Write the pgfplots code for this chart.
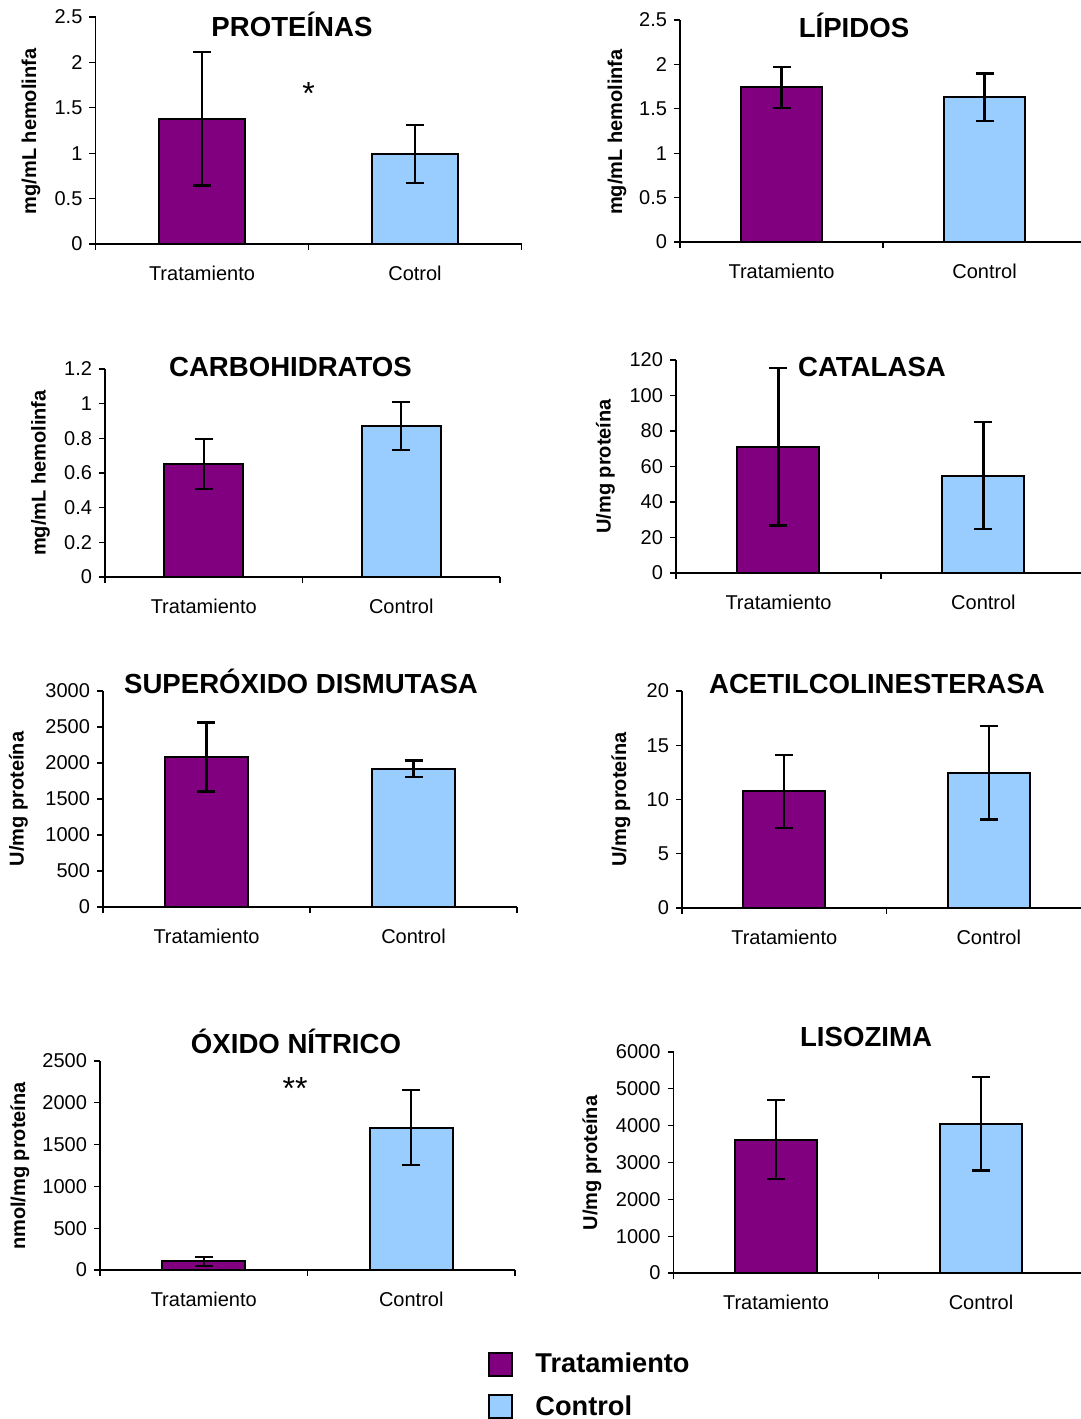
\documentclass[border=0pt]{standalone}
\usepackage{fontspec}
\setmainfont{Liberation Sans}
\usepackage{pgfplots}
\pgfplotsset{compat=1.18}
\definecolor{tratcol}{HTML}{800080}
\definecolor{ctrlcol}{HTML}{99CCFF}
\pgfplotsset{
 panel/.style={
   scale only axis, anchor=south west, clip=false,
   axis lines*=left,
   axis line style={black, line width=0.6pt},
   every tick/.style={black, line width=0.6pt},
   tick align=outside, major tick length=3pt,
   xmin=0, ymin=0,
   xtick={0,1,2}, xticklabels={,,},
   extra x ticks={0.5,1.5}, extra x tick labels={Tratamiento,Control},
   extra x tick style={major tick length=0pt, xticklabel style={yshift=-7.5pt}},
   tick label style={font=\fontsize{10}{12}\selectfont},
   /pgf/number format/assume math mode=true,
   scaled y ticks=false,
   yticklabel style={/pgf/number format/fixed, /pgf/number format/1000 sep={}},
   ybar, bar shift=0pt, bar width=0.4,
 },
 ebar/.style={error bars/.cd, y dir=both, y explicit,
   error bar style={line width=1.1pt, black},
   error mark options={rotate=90, line width=1.1pt, black, mark size=4.5pt}},
 barT/.style={fill=tratcol, draw=black, line width=1pt, forget plot, ebar},
 barC/.style={fill=ctrlcol, draw=black, line width=1pt, forget plot, ebar},
 sqleg/.style={legend image code/.code={\draw[##1] (0pt,-5.75pt) rectangle (11.5pt,5.75pt);}},
}
\newcommand{\ttl}[2]{\node[anchor=base, font=\bfseries\fontsize{13.8}{16}\selectfont] at (#1) {#2};}
\newcommand{\ylab}[2]{\node[rotate=90, font=\bfseries\fontsize{10}{12}\selectfont] at (#1) {#2};}
\begin{document}
\begin{tikzpicture}
\useasboundingbox (0pt,0pt) rectangle (540.5pt,-709.5pt);

% PROTEINAS
\begin{axis}[panel, at={(47.75pt,-122pt)}, width=213pt, height=113.5pt, xmax=2, ymax=2.5, ytick={0,0.5,1,1.5,2,2.5},
  extra x tick labels={Tratamiento,Cotrol}]
\addplot[barT] coordinates {(0.5,1.38) +- (0,0.736)};
\addplot[barC] coordinates {(1.5,0.988) +- (0,0.319)};
\node[font=\fontsize{16}{18}\selectfont] at (axis cs:1,1.66) {*};
\end{axis}
\ttl{146pt,-18pt}{PROTEÍNAS}
\ylab{15.5pt,-65.75pt}{mg/mL hemolinfa}

% LIPIDOS
\begin{axis}[panel, at={(340pt,-121pt)}, width=200.5pt, height=111pt, xmax=1.975, ymax=2.5, ytick={0,0.5,1,1.5,2,2.5}]
\addplot[barT] coordinates {(0.5,1.74) +- (0,0.227)};
\addplot[barC] coordinates {(1.5,1.63) +- (0,0.268)};
\end{axis}
\ttl{427pt,-18.5pt}{LÍPIDOS}
\ylab{308.5pt,-66pt}{mg/mL hemolinfa}

% CARBOHIDRATOS
\begin{axis}[panel, at={(52.5pt,-288.5pt)}, width=197.5pt, height=104pt, xmax=2, ymax=1.2, ytick={0,0.2,0.4,0.6,0.8,1,1.2}]
\addplot[barT] coordinates {(0.5,0.651) +- (0,0.143)};
\addplot[barC] coordinates {(1.5,0.871) +- (0,0.139)};
\end{axis}
\ttl{145.25pt,-188pt}{CARBOHIDRATOS}
\ylab{20.25pt,-236.5pt}{mg/mL hemolinfa}

% CATALASA
\begin{axis}[panel, at={(338pt,-286.5pt)}, width=202.5pt, height=106.5pt, xmax=1.976, ymax=120, ytick={0,20,40,60,80,100,120}]
\addplot[barT] coordinates {(0.5,71.1) +- (0,44.3)};
\addplot[barC] coordinates {(1.5,54.9) +- (0,30.1)};
\end{axis}
\ttl{436pt,-188pt}{CATALASA}
\ylab{302.75pt,-233.25pt}{U/mg proteína}

% SOD
\begin{axis}[panel, at={(51.5pt,-453.5pt)}, width=207pt, height=108pt, xmax=2, ymax=3000, ytick={0,500,1000,1500,2000,2500,3000}]
\addplot[barT] coordinates {(0.5,2084) +- (0,479)};
\addplot[barC] coordinates {(1.5,1921) +- (0,114)};
\end{axis}
\ttl{150.5pt,-346.5pt}{SUPERÓXIDO DISMUTASA}
\ylab{9.25pt,-399.5pt}{U/mg proteína}

% ACETILCOLINESTERASA
\begin{axis}[panel, at={(341pt,-454pt)}, width=199.5pt, height=108.5pt, xmax=1.951, ymax=20, ytick={0,5,10,15,20}]
\addplot[barT] coordinates {(0.5,10.74) +- (0,3.35)};
\addplot[barC] coordinates {(1.5,12.45) +- (0,4.29)};
\end{axis}
\ttl{438.5pt,-346.5pt}{ACETILCOLINESTERASA}
\ylab{310.5pt,-399.75pt}{U/mg proteína}

% OXIDO NITRICO
\begin{axis}[panel, at={(50pt,-635pt)}, width=207.5pt, height=104.5pt, xmax=2, ymax=2500, ytick={0,500,1000,1500,2000,2500},
  legend style={at={(axis description cs:0.935,-0.375)}, anchor=north west, draw=none, fill=none,
    font=\bfseries\fontsize{13.6}{16}\selectfont, inner sep=0pt, row sep=6pt,
    /tikz/every odd column/.append style={column sep=9pt}},
  legend cell align=left]
\addplot[barT] coordinates {(0.5,104) +- (0,56)};
\addplot[barC] coordinates {(1.5,1702) +- (0,447)};
\node[font=\fontsize{16}{18}\selectfont] at (axis cs:0.94,2170) {**};
\addlegendimage{sqleg, fill=tratcol, draw=black, line width=1pt}
\addlegendentry{Tratamiento}
\addlegendimage{sqleg, fill=ctrlcol, draw=black, line width=1pt}
\addlegendentry{Control}
\end{axis}
\ttl{148pt,-526.5pt}{ÓXIDO NÍTRICO}
\ylab{10pt,-583pt}{nmol/mg proteína}

% LISOZIMA
\begin{axis}[panel, at={(336.75pt,-636.5pt)}, width=204pt, height=110.5pt, xmax=1.99, ymax=6000, ytick={0,1000,2000,3000,4000,5000,6000}]
\addplot[barT] coordinates {(0.5,3623) +- (0,1075)};
\addplot[barC] coordinates {(1.5,4057) +- (0,1274)};
\end{axis}
\ttl{433pt,-523pt}{LISOZIMA}
\ylab{296pt,-581.5pt}{U/mg proteína}
\end{tikzpicture}
\end{document}
